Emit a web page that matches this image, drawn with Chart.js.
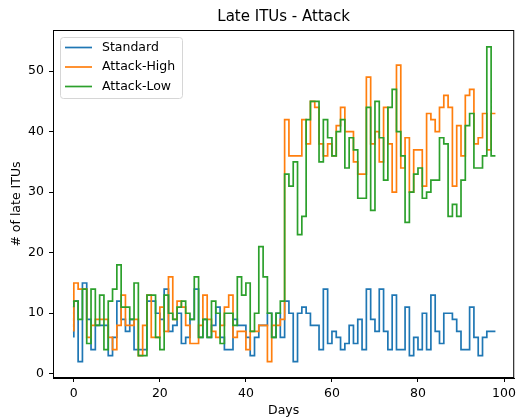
<!DOCTYPE html>
<html>
<head>
<meta charset="utf-8">
<script src="https://cdn.jsdelivr.net/npm/chart.js@4.4.1/dist/chart.umd.min.js"></script>
<style>
  html, body { margin: 0; padding: 0; background: #fff; }
  canvas { display: block; }
</style>
</head>
<body>
<canvas id="chart" width="520" height="420"></canvas>
<script>
// =============================================
// DATA
// =============================================
const seriesNames = ['Standard', 'Attack-High', 'Attack-Low'];
const seriesColors = ['#1f77b4', '#ff7f0e', '#2ca02c'];

const standard = [
  6, 12, 2, 15, 9, 4, 8, 8, 8, 3, 6, 12, 9, 7, 9, 4, 4, 4, 12, 12,
  10, 9, 14, 7, 8, 10, 5, 6, 9, 14, 6, 9, 6, 8, 11, 6, 4, 4, 9, 8,
  8, 6, 3, 6, 8, 8, 10, 6, 10, 6, 12, 10, 2, 10, 11, 10, 8, 8, 4, 14,
  5, 7, 6, 4, 5, 8, 5, 9, 4, 14, 9, 7, 14, 7, 4, 13, 4, 4, 11, 3,
  6, 4, 10, 4, 13, 7, 5, 10, 10, 9, 7, 4, 4, 11, 6, 3, 6, 7, 7
];
const attackHigh = [
  7, 15, 14, 14, 6, 8, 9, 9, 9, 6, 4, 8, 13, 8, 8, 9, 3, 8, 13, 6,
  6, 11, 7, 16, 9, 12, 11, 8, 5, 5, 8, 13, 9, 7, 6, 8, 11, 13, 6, 7,
  7, 4, 7, 7, 8, 8, 2, 8, 8, 9, 42, 36, 36, 36, 42, 38, 45, 44, 38, 36,
  38, 36, 41, 44, 40, 40, 35, 33, 33, 49, 38, 40, 35, 44, 38, 30, 51, 34, 39, 30,
  37, 37, 31, 43, 42, 40, 44, 46, 44, 31, 41, 36, 46, 47, 38, 39, 43, 37, 43
];
const attackLow = [
  11, 12, 9, 14, 5, 14, 8, 13, 4, 12, 14, 18, 11, 11, 9, 15, 3, 3, 13, 13,
  6, 4, 13, 10, 9, 11, 12, 10, 9, 16, 6, 9, 6, 12, 10, 5, 10, 10, 8, 16,
  13, 15, 7, 10, 21, 16, 10, 6, 10, 12, 33, 31, 35, 23, 26, 42, 45, 45, 35, 42,
  39, 36, 40, 42, 34, 39, 37, 29, 29, 44, 27, 45, 39, 32, 44, 47, 40, 36, 25, 30,
  33, 34, 29, 30, 32, 32, 39, 38, 26, 28, 26, 32, 41, 43, 34, 34, 36, 54, 36
];

const xTicks = [0, 20, 40, 60, 80, 100];
const yTicks = [0, 10, 20, 30, 40, 50];

const FONT = 'DejaVu Sans';

// =============================================
// HELPERS
// =============================================
function toPoints(vals) {
  return vals.map((v, i) => ({ x: i, y: v }));
}

// frame, title and legend drawn on top of the chart
const decorations = {
  id: 'decorations',
  afterDraw(chart) {
    const { ctx, chartArea: a } = chart;
    ctx.save();
    ctx.strokeStyle = '#000';
    ctx.lineWidth = 1;
    ctx.strokeRect(a.left + 0.5, a.top + 0.5, a.right - a.left - 1, a.bottom - a.top - 1);

    ctx.fillStyle = '#000';
    ctx.font = '15px "' + FONT + '"';
    ctx.textAlign = 'center';
    ctx.textBaseline = 'middle';
    ctx.fillText('Late ITUs - Attack', (a.left + a.right) / 2, 17);

    // legend box
    const bx = 60.5, by = 37.5, bw = 122, bh = 61;
    ctx.beginPath();
    ctx.roundRect(bx, by, bw, bh, 3);
    ctx.fillStyle = 'rgba(255,255,255,0.8)';
    ctx.fill();
    ctx.strokeStyle = '#d6d6d6';
    ctx.stroke();

    ctx.font = '12.5px "' + FONT + '"';
    ctx.textAlign = 'left';
    seriesNames.forEach((name, i) => {
      const y = 47.5 + i * 19.5;
      ctx.beginPath();
      ctx.moveTo(65, y);
      ctx.lineTo(92, y);
      ctx.strokeStyle = seriesColors[i];
      ctx.lineWidth = 1.7;
      ctx.stroke();
      ctx.fillStyle = '#000';
      ctx.fillText(name, 102, y);
    });
    ctx.restore();
  }
};

// =============================================
// CHART
// =============================================
const allSeries = [standard, attackHigh, attackLow];

new Chart(document.getElementById('chart'), {
  type: 'line',
  data: {
    datasets: allSeries.map((vals, i) => ({
      label: seriesNames[i],
      data: toPoints(vals),
      borderColor: seriesColors[i],
      borderWidth: 1.7,
      pointRadius: 0,
      fill: false,
      stepped: 'after',
      order: 2 - i
    }))
  },
  options: {
    responsive: false,
    animation: false,
    layout: { padding: { top: 30, right: 2, left: 0, bottom: 0 } },
    plugins: {
      legend: { display: false },
      tooltip: { enabled: false },
      title: { display: false }
    },
    scales: {
      x: {
        type: 'linear',
        min: -4.84,
        max: 102.37,
        afterBuildTicks: s => { s.ticks = xTicks.map(v => ({ value: v })); },
        afterFit: s => { s.height = 42; },
        grid: { drawOnChartArea: false, drawTicks: true, tickLength: 4, color: '#000' },
        border: { display: true, color: '#000', width: 1 },
        ticks: { color: '#000', font: { family: FONT, size: 12.5 }, padding: 4, maxRotation: 0 },
        title: { display: true, text: 'Days', color: '#000', font: { family: FONT, size: 12.5 }, padding: { top: 0, bottom: 2 } }
      },
      y: {
        type: 'linear',
        min: -0.7,
        max: 56.8,
        afterBuildTicks: s => { s.ticks = yTicks.map(v => ({ value: v })); },
        afterFit: s => { s.width = 53; },
        grid: { drawOnChartArea: false, drawTicks: true, tickLength: 4, color: '#000' },
        border: { display: true, color: '#000', width: 1 },
        ticks: { color: '#000', font: { family: FONT, size: 12.5 }, padding: 5 },
        title: { display: true, text: '# of late ITUs', color: '#000', font: { family: FONT, size: 12.5 }, padding: { top: 9, bottom: 0 } }
      }
    }
  },
  plugins: [decorations]
});
</script>
</body>
</html>
